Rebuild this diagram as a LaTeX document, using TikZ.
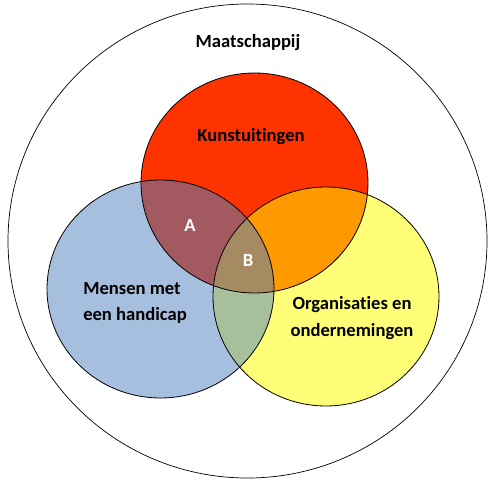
\documentclass[tikz,border=0pt]{standalone}
\usepackage{fontspec}
\setmainfont{Carlito}[Ligatures=NoCommon]
\usetikzlibrary{calc}

\definecolor{kunstred}{RGB}{255,51,0}
\definecolor{mensblue}{RGB}{167,191,222}
\definecolor{orgyellow}{RGB}{255,255,119}
\definecolor{zoneA}{RGB}{163,89,96}
\definecolor{zoneB}{RGB}{166,139,98}
\definecolor{zoneRY}{RGB}{255,153,0}
\definecolor{zoneBY}{RGB}{166,192,155}

\newcommand{\kunstpath}{(254.5,183) ellipse [x radius=113.5, y radius=110]}
\newcommand{\menspath}{(160.5,289) ellipse [x radius=113.5, y radius=109]}
\newcommand{\orgpath}{(326,296.5) ellipse [x radius=113, y radius=109.5]}

\begin{document}
\begin{tikzpicture}[x=1pt,y=-1pt,
  venntext/.style={font=\bfseries\fontsize{18.6}{26.5}\selectfont, align=center, inner sep=0pt},
  zonetext/.style={venntext, text=white}]
\useasboundingbox (0,0) rectangle (488,479);

% society
\draw[line width=0.7pt] (247.5,241) ellipse [x radius=239.5, y radius=237];

% the three sets
\fill[mensblue] \menspath;
\fill[orgyellow] \orgpath;
\fill[kunstred] \kunstpath;

% overlaps
\begin{scope}
\clip \kunstpath;
\fill[zoneA] \menspath;
\fill[zoneRY] \orgpath;
\end{scope}
\begin{scope}
\clip \menspath;
\fill[zoneBY] \orgpath;
\clip \orgpath;
\fill[zoneB] \kunstpath;
\end{scope}

\draw[line width=0.8pt] \menspath;
\draw[line width=0.8pt] \orgpath;
\draw[line width=0.8pt] \kunstpath;

\node[venntext] (maat) at (248,43) {Maatschappij};
\node[venntext] (kunst) at (251,137) {Kunstuitingen};
\node[venntext, align=left] (mensen) at (135,303) {Mensen met\\een handicap};
\node[venntext] (org) at (352,318) {Organisaties en\\ondernemingen};
\node[zonetext] (zA) at (190,225) {A};
\node[zonetext] (zB) at (248,260) {B};
\end{tikzpicture}
\end{document}
